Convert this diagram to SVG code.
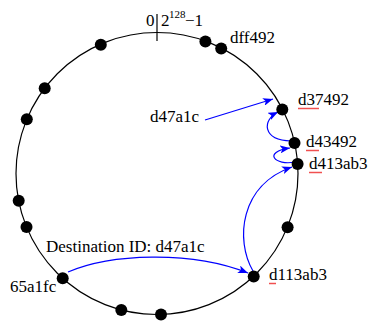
<svg xmlns="http://www.w3.org/2000/svg" width="368" height="324" viewBox="0 0 368 324">
<style>
text{font-family:"Liberation Serif","Times New Roman",serif;font-size:17px;fill:#000}
.sup{font-size:11px}
.ring{fill:none;stroke:#000;stroke-width:1.2}
.node{fill:#000}
.link{fill:none;stroke:#0000ff;stroke-width:1.2}
.ul{stroke:#f05050;stroke-width:1.5}
</style>
<defs>
<marker id="ah" markerUnits="userSpaceOnUse" markerWidth="11" markerHeight="8" refX="10" refY="4" orient="auto">
<path d="M0,0 L10,4 L0,8 L2.5,4 z" fill="#0000ff"/>
</marker>
</defs>
<rect width="368" height="324" fill="#fff"/>
<circle class="ring" cx="157" cy="173.5" r="141"/>
<line x1="157" y1="14" x2="157" y2="41" stroke="#000" stroke-width="1.2"/>
<text x="146" y="26">0</text>
<text x="161" y="26">2</text>
<text class="sup" x="169" y="18">128</text>
<text x="185" y="26">−1</text>
<g id="connectors">
<path class="link" d="M205,120 L273,99" marker-end="url(#ah)"/>
<path class="link" d="M68,272 C110,254 190,250 248,273" marker-end="url(#ah)"/>
<path class="link" d="M253,271 C235,240 240,185 292,167" marker-end="url(#ah)"/>
<path class="link" d="M295,162 C275,166 262,152 290,148" marker-end="url(#ah)"/>
<path class="link" d="M291,141 C262,140 262,120 278,112" marker-end="url(#ah)"/>
</g>
<g id="n1"><circle class="node" cx="100.8" cy="44.7" r="6"/></g>
<g id="n2"><circle class="node" cx="205.4" cy="41.6" r="6"/></g>
<g id="n-dff492"><circle class="node" cx="221.2" cy="48.5" r="6"/><text x="230" y="43">dff492</text></g>
<g id="n-d37492"><circle class="node" cx="282.3" cy="109.4" r="6"/><text x="298" y="105">d37492</text><line class="ul" x1="298" y1="108.5" x2="319" y2="108.5"/></g>
<g id="n-d43492"><circle class="node" cx="294.5" cy="142.9" r="6"/><text x="306" y="147">d43492</text><line class="ul" x1="306" y1="150.5" x2="319" y2="150.5"/></g>
<g id="n-d413ab3"><circle class="node" cx="297.6" cy="164" r="6"/><text x="309" y="169">d413ab3</text><line class="ul" x1="309" y1="172.5" x2="322" y2="172.5"/></g>
<g id="n7"><circle class="node" cx="287.6" cy="227.2" r="6"/></g>
<g id="n-d113ab3"><circle class="node" cx="253.7" cy="276.6" r="6"/><text x="269" y="280">d113ab3</text><line class="ul" x1="269" y1="283.5" x2="276" y2="283.5"/></g>
<g id="n9"><circle class="node" cx="161" cy="314.5" r="6"/></g>
<g id="n10"><circle class="node" cx="121.3" cy="309.9" r="6"/></g>
<g id="n-65a1fc"><circle class="node" cx="62.7" cy="278.3" r="6"/><text x="10" y="292">65a1fc</text></g>
<g id="n12"><circle class="node" cx="26.5" cy="227" r="6"/></g>
<g id="n13"><circle class="node" cx="18.7" cy="200.7" r="6"/></g>
<g id="n14"><circle class="node" cx="26.8" cy="119.3" r="6"/></g>
<g id="n15"><circle class="node" cx="44.7" cy="88.3" r="6"/></g>
<g id="lbl-dest"><text x="46" y="252">Destination ID: d47a1c</text></g>
<g id="lbl-key"><text x="150" y="122">d47a1c</text></g>
</svg>
